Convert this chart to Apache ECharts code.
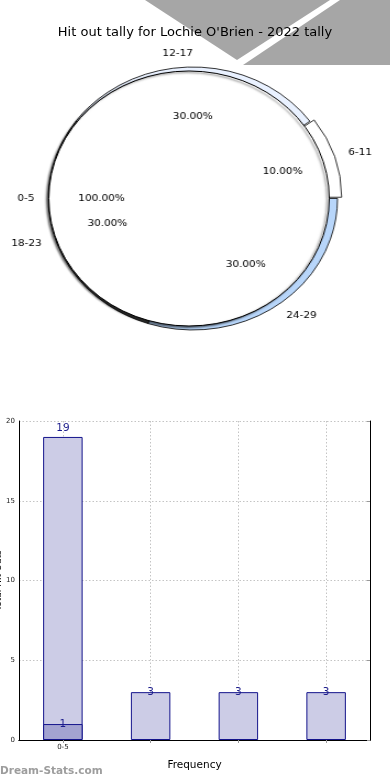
<!DOCTYPE html>
<html>
<head>
<meta charset="utf-8">
<script src="https://cdn.jsdelivr.net/npm/echarts@6/dist/echarts.min.js"></script>
<style>
html,body{margin:0;padding:0;overflow:hidden;background:#fff;}
#main{position:absolute;left:0;top:0;width:390px;height:780px;}
#pie{position:absolute;left:0;top:0;width:390px;height:400px;transform:scaleX(1.1);transform-origin:189px 0;}
</style>
</head>
<body>
<div id="main"></div>
<div id="pie"></div>
<script>
// ---- data ----
var titleText = "Hit out tally for Lochie O'Brien - 2022 tally";
var pieCategories = ['0-5', '6-11', '12-17', '18-23', '24-29'];
var innerValues = [1, 0, 0, 0, 0];
var ringValues = [0, 1, 3, 3, 3];
var ringColors = ['#ffffff', '#ffffff', '#e9f1ff', '#4d4d4d', '#b8d6fa'];
var explodedRing = ['6-11'];

var barLabels = ['0-5', '', '', ''];
var barTotals = [19, 3, 3, 3];
var barOverlay = [1, null, null, null];
var yTicks = [0, 5, 10, 15, 20];

var FONT = 'DejaVu Sans';

// ---- main chart (title + bars) ----
var main = echarts.init(document.getElementById('main'), null, {renderer: 'canvas'});
var cat = barLabels.map(function (l, i) { return l === '' ? ' '.repeat(i) : l; });
main.setOption({
  animation: false,
  textStyle: {fontFamily: FONT},
  title: {
    text: titleText, left: 'center', top: 21,
    textStyle: {fontFamily: FONT, fontSize: 13, fontWeight: 'normal', color: '#000'}
  },
  graphic: [
    {type: 'polygon', z: -10, shape: {points: [[145, 0], [330, 0], [237, 60]]}, style: {fill: '#a6a6a6'}},
    {type: 'polygon', z: -10, shape: {points: [[243, 65], [340, 0], [390, 0], [390, 65]]}, style: {fill: '#a6a6a6'}},
    {type: 'text', left: 0, bottom: 3, style: {text: 'Dream-Stats.com', fill: '#9d9d9d', font: 'bold 10.5px "DejaVu Sans"'}}
  ],
  grid: {left: 19, right: 20, top: 421, bottom: 40, containLabel: false, outerBoundsMode: 'none'},
  xAxis: [{
    type: 'category', data: cat, position: 'bottom',
    axisLine: {lineStyle: {color: '#000', width: 1}},
    axisTick: {show: true, alignWithLabel: true, inside: true, length: 3, lineStyle: {color: '#999'}},
    axisLabel: {fontSize: 7, color: '#222', margin: 4, fontFamily: FONT,
      formatter: function (v) { return v.trim(); }},
    splitLine: {show: true, alignWithLabel: true, lineStyle: {type: [1.5, 2], color: '#c4c4c4', width: 1}},
    name: 'Frequency', nameLocation: 'middle', nameGap: 20,
    nameTextStyle: {fontSize: 10.5, color: '#000', fontFamily: FONT}
  }, {
    type: 'category', data: cat, position: 'top',
    axisLine: {lineStyle: {color: '#000', width: 1}},
    axisTick: {show: true, alignWithLabel: true, inside: true, length: 3, lineStyle: {color: '#999'}},
    axisLabel: {show: false}, splitLine: {show: false}
  }],
  yAxis: [{
    type: 'value', min: yTicks[0], max: yTicks[yTicks.length - 1], interval: 5, position: 'left',
    axisLine: {show: true, lineStyle: {color: '#000', width: 1}},
    axisTick: {show: false},
    axisLabel: {fontSize: 7, color: '#222', margin: 4, fontFamily: FONT},
    splitLine: {show: true, lineStyle: {type: [1.5, 2], color: '#c4c4c4', width: 1}},
    name: 'Total Hit Outs', nameLocation: 'middle', nameGap: 16, nameMoveOverlap: false,
    nameTextStyle: {fontSize: 9, color: '#000', fontFamily: FONT}
  }, {
    type: 'value', min: yTicks[0], max: yTicks[yTicks.length - 1], interval: 5, position: 'right',
    axisLine: {show: true, lineStyle: {color: '#000', width: 1}},
    axisTick: {show: true, inside: true, length: 3, lineStyle: {color: '#999'}},
    axisLabel: {show: false}, splitLine: {show: false}
  }],
  series: [{
    type: 'bar', xAxisIndex: 0, yAxisIndex: 0, barWidth: '45%', barGap: '-100%',
    data: barTotals.map(function (v) {
      return {value: v, label: {distance: v > 10 ? 3 : -6}};
    }),
    itemStyle: {color: '#cccce6', borderColor: '#14148c', borderWidth: 1},
    label: {show: true, position: 'top', color: '#1c1c8c', fontSize: 10.5, fontFamily: FONT},
    z: 2
  }, {
    type: 'bar', xAxisIndex: 0, yAxisIndex: 0, barWidth: '45%', barGap: '-100%',
    data: barOverlay.map(function (v) { return v == null ? null : {value: v, label: {distance: -6}}; }),
    itemStyle: {color: '#a3a3d1', borderColor: '#14148c', borderWidth: 1},
    label: {show: true, position: 'top', color: '#1c1c8c', fontSize: 10.5, fontFamily: FONT},
    z: 3
  }]
});

// ---- pie overlay (stretched horizontally to an ellipse) ----
var pie = echarts.init(document.getElementById('pie'), null, {renderer: 'canvas'});
function pieData(values, opts) {
  var out = [];
  values.forEach(function (v, i) {
    if (!v) return;
    var d = {name: pieCategories[i], value: v};
    if (opts && opts.colors) d.itemStyle = {color: opts.colors[i]};
    if (opts && opts.explode && explodedRing.indexOf(pieCategories[i]) >= 0) d.selected = true;
    out.push(d);
  });
  return out;
}
function pct(p) { return p.percent.toFixed(2) + '%'; }
var innerC = [189, 198.5], ringC = [192.5, 198.5];
var START = 0.01;
var lblFont = {fontFamily: FONT, fontSize: 9.5, color: '#000'};
pie.setOption({
  animation: false,
  series: [{
    // outer ring
    type: 'pie', z: 2, center: ringC, radius: [100, 131.5], startAngle: START, clockwise: false,
    selectedMode: 'multiple', selectedOffset: 4, avoidLabelOverlap: false, silent: true,
    data: pieData(ringValues, {colors: ringColors, explode: true}),
    itemStyle: {borderColor: '#000', borderWidth: 0.8},
    label: Object.assign({show: true, position: 'outside', distanceToLabelLine: 0, formatter: '{b}'}, lblFont),
    labelLine: {show: false, length: 13, length2: 0},
    emphasis: {disabled: true}
  }, {
    // inner full pie
    type: 'pie', z: 3, center: innerC, radius: [0, 127.5], startAngle: 0, clockwise: false,
    avoidLabelOverlap: false, silent: true,
    data: pieData(innerValues),
    itemStyle: {color: '#ffffff', borderColor: '#000', borderWidth: 1,
      shadowColor: 'rgba(0,0,0,0.55)', shadowBlur: 2, shadowOffsetX: -2, shadowOffsetY: 1.5},
    label: Object.assign({show: true, position: 'outside', distanceToLabelLine: 0, formatter: '{b}'}, lblFont),
    labelLine: {show: false, length: 13, length2: 0},
    emphasis: {disabled: true}
  }, {
    // ring percentages
    type: 'pie', z: 10, center: ringC, radius: [26, 131.5], startAngle: START, clockwise: false,
    selectedMode: 'multiple', selectedOffset: 4, avoidLabelOverlap: false, silent: true,
    data: pieData(ringValues, {explode: true}),
    itemStyle: {color: 'rgba(0,0,0,0)', borderWidth: 0},
    label: Object.assign({show: true, position: 'inside', formatter: pct}, lblFont),
    labelLine: {show: false},
    emphasis: {disabled: true}
  }, {
    // inner percentages
    type: 'pie', z: 10, center: innerC, radius: [25.5, 127.5], startAngle: 0, clockwise: false,
    avoidLabelOverlap: false, silent: true,
    data: pieData(innerValues),
    itemStyle: {color: 'rgba(0,0,0,0)', borderWidth: 0},
    label: Object.assign({show: true, position: 'inside', formatter: pct}, lblFont),
    labelLine: {show: false},
    emphasis: {disabled: true}
  }]
});
</script>
</body>
</html>
